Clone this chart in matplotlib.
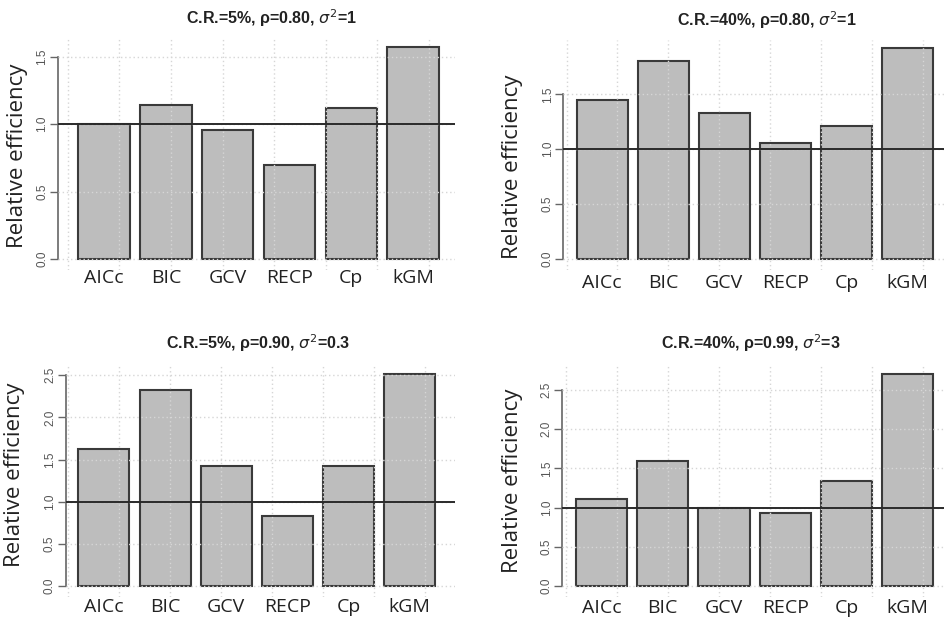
import matplotlib
matplotlib.use("Agg")
import matplotlib.pyplot as plt
import numpy as np

W, H = 945, 622

methods = ["AICc", "BIC", "GCV", "RECP", "Cp", "kGM"]

eff_cr5_rho80 = [1.00, 1.14, 0.955, 0.70, 1.12, 1.57]
eff_cr40_rho80 = [1.45, 1.80, 1.33, 1.06, 1.21, 1.92]
eff_cr5_rho90 = [1.625, 2.32, 1.42, 0.83, 1.42, 2.51]
eff_cr40_rho99 = [1.11, 1.59, 0.99, 0.93, 1.335, 2.70]

titles = [
    "C.R.=5%, ρ=0.80, $\\sigma^2$=1",
    "C.R.=40%, ρ=0.80, $\\sigma^2$=1",
    "C.R.=5%, ρ=0.90, $\\sigma^2$=0.3",
    "C.R.=40%, ρ=0.99, $\\sigma^2$=3",
]
yticks_list = [
    [0.0, 0.5, 1.0, 1.5],
    [0.0, 0.5, 1.0, 1.5],
    [0.0, 0.5, 1.0, 1.5, 2.0, 2.5],
    [0.0, 0.5, 1.0, 1.5, 2.0, 2.5],
]
series = [eff_cr5_rho80, eff_cr40_rho80, eff_cr5_rho90, eff_cr40_rho99]

# layout (pixels)
layouts = [
    dict(l=58, r=455, t=38.4, b=269.8, xlim=(-0.194, 7.514), ylim=(-0.08, 1.635),
         tx=271, ty=18, ylx=18, yly=156, xly=278),
    dict(l=563.3, r=945, t=39.6, b=269.6, xlim=(-0.063, 7.436), ylim=(-0.097, 1.998),
         tx=767, ty=20, ylx=513, yly=167, xly=283),
    dict(l=65.7, r=455, t=365.9, b=596.6, xlim=(-0.047, 7.586), ylim=(-0.126, 2.611),
         tx=258, ty=343, ylx=15, yly=475, xly=606.5),
    dict(l=562.3, r=945, t=365.8, b=596.7, xlim=(-0.068, 7.43), ylim=(-0.136, 2.809),
         tx=751, ty=343, ylx=513, yly=481, xly=608),
]

fig = plt.figure(figsize=(W / 100, H / 100), dpi=100)
fig.patch.set_facecolor("white")

bar_x = 0.7 + 1.2 * np.arange(len(methods))

for vals, title, yt, lay in zip(series, titles, yticks_list, layouts):
    ax = fig.add_axes([lay["l"] / W, (H - lay["b"]) / H,
                       (lay["r"] - lay["l"]) / W, (lay["b"] - lay["t"]) / H])
    ax.set_xlim(*lay["xlim"])
    ax.set_ylim(*lay["ylim"])
    ax.bar(bar_x, vals, width=1.0, color="#bdbdbd", edgecolor="#3a3a3a",
           linewidth=1.5, zorder=2)
    # grid on top (R grid() after barplot)
    for gx in range(0, 8):
        ax.axvline(gx, color="#d6d6d6", linestyle=(0, (1, 2)), linewidth=1.0, zorder=3)
    for gy in yt:
        ax.axhline(gy, color="#d6d6d6", linestyle=(0, (1, 2)), linewidth=1.0, zorder=3)
    ax.axhline(1.0, color="#2a2a2a", linewidth=1.4, zorder=4)

    for s in ["top", "right", "bottom"]:
        ax.spines[s].set_visible(False)
    ax.spines["left"].set_bounds(yt[0], yt[-1])
    ax.spines["left"].set_color("#666666")
    ax.spines["left"].set_linewidth(1.2)
    ax.set_yticks(yt)
    ax.set_yticklabels([f"{v:.1f}" for v in yt], rotation=90, va="center",
                       fontsize=8.5, family="Liberation Sans", color="#555555")
    ax.tick_params(axis="y", length=6, width=1.0, color="#666666", pad=1)
    ax.set_xticks([])

    # x labels
    for xi, m in zip(bar_x, methods):
        xp = lay["l"] + (xi - lay["xlim"][0]) / (lay["xlim"][1] - lay["xlim"][0]) * (lay["r"] - lay["l"])
        fig.text(xp / W, 1 - lay["xly"] / H, m, ha="center", va="center",
                 fontsize=14, family="Open Sans", color="#222222")
    # title
    fig.text(lay["tx"] / W, 1 - lay["ty"] / H, title, ha="center", va="center",
             fontsize=11.5, family="Liberation Sans", fontweight="bold", color="#222222")
    # y label
    fig.text(lay["ylx"] / W, 1 - lay["yly"] / H, "Relative efficiency", ha="center",
             va="center", rotation=90, fontsize=16, family="Open Sans", color="#222222")

fig.savefig("out.png", dpi=100, facecolor="white")
